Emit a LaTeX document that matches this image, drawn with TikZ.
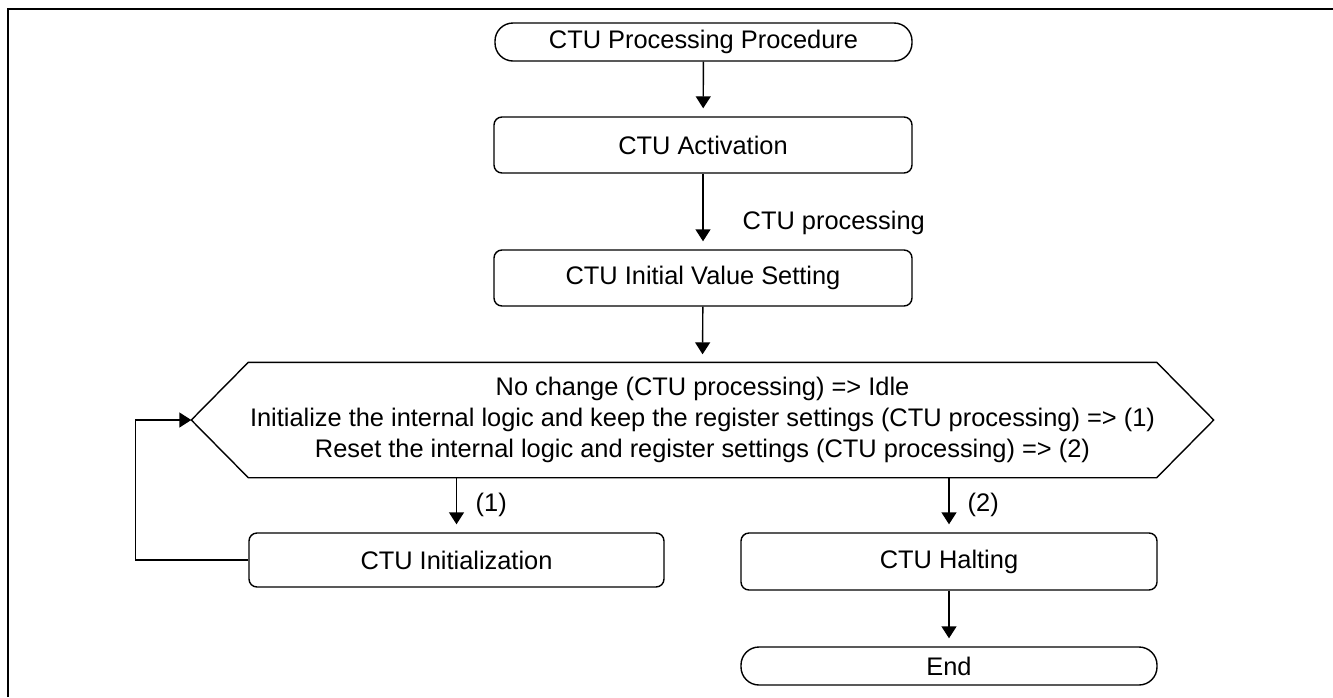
\documentclass[tikz,border=0pt]{standalone}
\usepackage{fontspec}
\setmainfont{Liberation Sans}
\usetikzlibrary{
    arrows.meta,
    calc
}
\tikzset{
  every path/.style={
    black,
    line width=0.7pt
  },
  every node/.style={
    font=\fontsize{12.7}{15.5}\selectfont,
    inner sep=1.5pt
  },
  stepbox/.style={
    draw,
    rounded corners=4pt,
    minimum width=209pt,
    minimum height=28pt
  },
  pill/.style={
    draw,
    rounded corners=9pt,
    minimum width=208.5pt,
    minimum height=19pt
  },
  arr/.style={
    ->,
    shorten >=4pt
  }
}

\begin{document}
\begin{tikzpicture}[x=0.5pt,y=-0.5pt,>={Triangle[width=7.5pt,length=6pt]}]
    \useasboundingbox (0,0) rectangle (1333,697);

    % 枠
    \draw[line width=1pt] (7.5,697) -- (7.5,9) -- (1333,9);

    % ステップ
    \node[pill] (start) at (703.5,42) {CTU Processing Procedure};
    \node[stepbox] (act) at (703,145) {CTU Activation};
    \node[stepbox] (ivs) at (703,278) {CTU Initial Value Setting};

    % 分岐（六角形）
    \node[minimum width=510.5pt,minimum height=57pt,align=center] (dec) at (702.5,420)
        {No change (CTU processing) => Idle\\
         Initialize the internal logic and keep the register settings (CTU processing) => (1)\\
         Reset the internal logic and register settings (CTU processing) => (2)};
    \draw (dec.west) -- ([xshift=28.5pt]dec.north west) -- ([xshift=-28.5pt]dec.north east)
        -- (dec.east) -- ([xshift=-28.5pt]dec.south east) -- ([xshift=28.5pt]dec.south west)
        -- cycle;

    \node[stepbox,minimum width=207.5pt,minimum height=27pt] (init) at (456.5,560) {CTU Initialization};
    \node[stepbox,minimum width=208pt,minimum height=28.5pt] (halt) at (949,561.5) {CTU Halting};
    \node[pill,minimum width=208pt] (stop) at (949,666) {End};

    % ラベル
    \node[anchor=west,inner sep=0pt] (lblproc) at (742,223) {CTU processing};
    \node[anchor=west,inner sep=0pt] (lblone) at (475,505) {(1)};
    \node[anchor=west,inner sep=0pt] (lbltwo) at (967,505) {(2)};

    % 矢印
    \draw[arr] (start) -- (act);
    \draw[arr] (act) -- (ivs);
    \draw[arr] (ivs) -- (dec.north);
    \draw[arr] (dec.south -| init.north) -- (init.north);
    \draw[arr] (dec.south -| halt.north) -- (halt.north);
    \draw[arr] (halt) -- (stop);

    % 戻りループ
    \draw[->] (init.west) -- ++(-113,0) |- (dec.west);
\end{tikzpicture}
\end{document}
